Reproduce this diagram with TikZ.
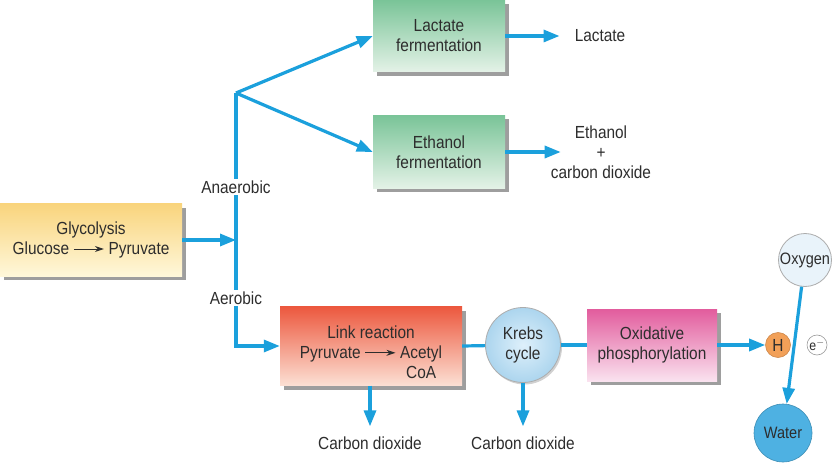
\documentclass[tikz,border=0pt]{standalone}
\usepackage{fontspec}
\setmainfont{Liberation Sans}[FakeStretch=0.88]
\usetikzlibrary{positioning, arrows.meta, shadows}
\definecolor{flowblue}{RGB}{27, 160, 220}
\definecolor{txtgray}{RGB}{45, 45, 45}
\definecolor{glytop}{RGB}{249, 212, 125}
\definecolor{glybot}{RGB}{255, 248, 218}
\definecolor{fermtop}{RGB}{122, 196, 152}
\definecolor{fermbot}{RGB}{228, 242, 231}
\definecolor{linktop}{RGB}{236, 88, 62}
\definecolor{linkbot}{RGB}{252, 224, 212}
\definecolor{oxtop}{RGB}{226, 92, 157}
\definecolor{oxbot}{RGB}{250, 226, 239}
\definecolor{krebsin}{RGB}{222, 240, 251}
\definecolor{krebsout}{RGB}{172, 213, 238}
\definecolor{waterblue}{RGB}{78, 177, 226}
\definecolor{hydorange}{RGB}{242, 160, 88}
\definecolor{oxylight}{RGB}{233, 243, 250}

% small reaction arrow used inside the boxes
\newcommand{\rxn}{\tikz[baseline=-0.6ex]\draw[txtgray, line width=0.9pt, -{Stealth[length=9pt, width=6pt]}] (0pt, 0pt) -- (30pt, 0pt);}

\begin{document}
\begin{tikzpicture}[
        x=1pt, y=-1pt,
        font=\fontsize{17.5}{20}\selectfont,
        text=txtgray,
        box/.style={align=center, inner sep=0pt,
            drop shadow={shadow xshift=4pt, shadow yshift=-4pt, fill=black!38, opacity=1}},
        flow/.style={draw=flowblue, line width=3.2pt, -{Triangle[length=16pt, width=12pt]}},
        pipe/.style={draw=flowblue, line width=3.2pt},
        lbl/.style={fill=white, inner sep=2pt},
        outlet/.style={align=center, inner sep=2pt},
        ball/.style={circle, inner sep=0pt, align=center, draw=gray!65, line width=0.8pt}
    ]

    \useasboundingbox (0, 0) rectangle (837, 470);

    % Junction points on the blue trunk
    \coordinate (branch) at (236, 93);
    \coordinate (split) at (236, 240);

    % === BOXES ===
    \node[box, top color=glytop, bottom color=glybot, minimum width=182pt, minimum height=72pt]
        (glyco) at (91, 240) {Glycolysis\\Glucose \rxn{} Pyruvate};

    \node[box, top color=fermtop, bottom color=fermbot, minimum width=132pt, minimum height=72pt]
        (lactbox) at (439, 36) {Lactate\\fermentation};

    \node[box, top color=fermtop, bottom color=fermbot, minimum width=132pt, minimum height=73pt]
        (ethbox) at (439, 152) {Ethanol\\fermentation};

    \node[box, top color=linktop, bottom color=linkbot, minimum width=182pt, minimum height=79pt]
        (link) at (371, 346) {};
    \node[align=center] (linktxt) at ([yshift=-9pt]link.center)
        {Link reaction\\Pyruvate \rxn{} \begin{tabular}[t]{@{}c@{}}Acetyl\\CoA\end{tabular}};

    \node[ball, shading=radial, inner color=krebsin, outer color=krebsout, minimum size=75pt,
        drop shadow={shadow xshift=1.5pt, shadow yshift=-2pt, fill=black!30, opacity=0.6}]
        (krebs) at (523, 345) {Krebs\\cycle};

    \node[box, top color=oxtop, bottom color=oxbot, minimum width=130pt, minimum height=72pt]
        (oxphos) at (652, 345) {Oxidative\\phosphorylation};

    % === PRODUCTS ===
    \node[outlet] (lact) at (600, 36) {Lactate};
    \node[outlet] (eth) at (601, 152) {Ethanol\\+\\carbon dioxide};
    \node[outlet] (co2a) at (370, 443) {Carbon dioxide};
    \node[outlet] (co2b) at (523, 443) {Carbon dioxide};

    % Electron transport end
    \node[circle, fill=hydorange, draw=hydorange!85!black, line width=0.6pt, minimum size=25pt, inner sep=0pt]
        (hyd) at (778, 345) {H};
    \node[circle, fill=white, draw=gray!80, line width=0.6pt, minimum size=20pt, inner sep=0pt,
        font=\fontsize{14}{16}\selectfont] (elec) at (817, 345) {e$^{-}$};
    \node[ball, fill=oxylight, minimum size=53pt, font=\fontsize{16.5}{18}\selectfont]
        (oxy) at (805, 260) {Oxygen};
    \node[circle, fill=waterblue, draw=waterblue!80!black, line width=0.6pt, minimum size=58pt, inner sep=0pt,
        font=\fontsize{16.5}{18}\selectfont] (water) at (783, 433) {Water};

    % === ARROWS ===
    \draw[flow] (glyco) -- (split);
    \draw[flow] (branch) -- (lactbox.west);
    \draw[flow] (branch) -- (ethbox.west);
    \draw[flow] (branch) |- (link.west);

    \draw[flow, shorten >=13pt] (lactbox) -- (lact);
    \draw[flow] (ethbox.east) -- ([xshift=12pt]eth.west);

    \draw[pipe] (link.east) -- (krebs);
    \draw[pipe] (krebs) -- (oxphos);
    \draw[flow] (oxphos) -- (hyd);

    \draw[flow, shorten >=8pt] (co2a.north |- link.south) -- (co2a.north);
    \draw[flow, shorten >=8pt] (krebs.south) -- (co2b.north);

    \draw[flow] (oxy) -- (water);

    % Branch labels sit on the trunk
    \node[lbl] (anaer) at (236, 187) {Anaerobic};
    \node[lbl] (aer) at (236, 298) {Aerobic};

\end{tikzpicture}
\end{document}
